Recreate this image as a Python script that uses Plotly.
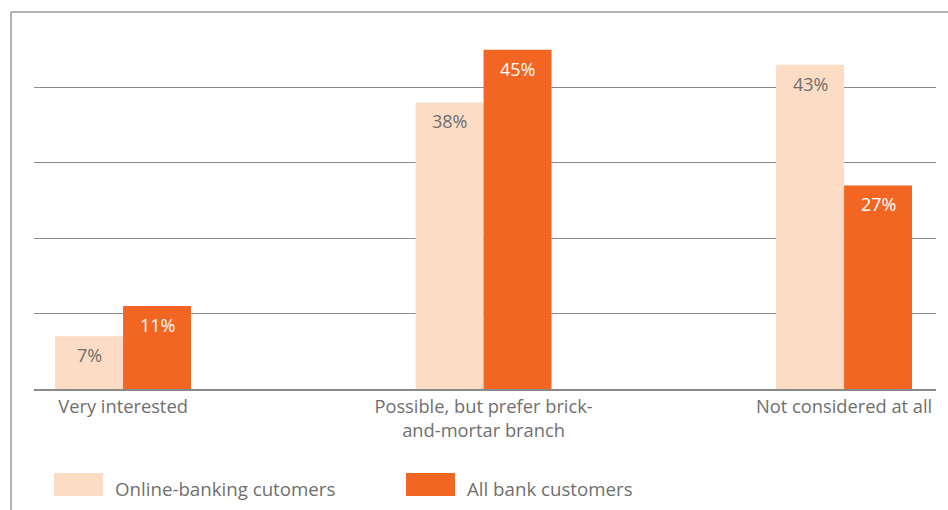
import plotly.graph_objects as go

categories = ["Very interested", "Possible, but prefer brick-<br>and-mortar branch", "Not considered at all"]
series_names = ["Online-banking cutomers", "All bank customers"]
online_values = [7, 38, 43]
all_values = [11, 45, 27]

LIGHT = "#FCDCC5"
DARK = "#F26522"
GRAY_TEXT = "#6f6f6f"
GRID = "#8a8a8a"
FONT = "Open Sans"

fig = go.Figure()
fig.add_trace(go.Bar(x=categories, y=online_values, name=series_names[0],
                     marker=dict(color=LIGHT, line=dict(width=0)), showlegend=False))
fig.add_trace(go.Bar(x=categories, y=all_values, name=series_names[1],
                     marker=dict(color=DARK, line=dict(width=0)), showlegend=False))

annotations = []
for i, c in enumerate(categories):
    annotations.append(dict(x=c, y=online_values[i], xref="x", yref="y", text=f"{online_values[i]}%",
                            showarrow=False, xshift=-34, yshift=-19, yanchor="middle",
                            font=dict(family=FONT, size=18, color=GRAY_TEXT)))
    annotations.append(dict(x=c, y=all_values[i], xref="x", yref="y", text=f"{all_values[i]}%",
                            showarrow=False, xshift=34, yshift=-19, yanchor="middle",
                            font=dict(family=FONT, size=18, color="white")))

# legend drawn as swatches + text below plot
W = 948 - 34 - 12
H = 510 - 12 - 121
def px_x(p):
    return (p - 34) / W
def px_y(p):
    return (389 - p) / H

shapes = [
    # frame (left and top)
    dict(type="line", xref="paper", yref="paper", x0=px_x(11), x1=px_x(11), y0=px_y(12), y1=px_y(512),
         line=dict(color="#9a9a9a", width=1.5)),
    dict(type="line", xref="paper", yref="paper", x0=px_x(11), x1=px_x(950), y0=px_y(12), y1=px_y(12),
         line=dict(color="#9a9a9a", width=1.5)),
    dict(type="rect", xref="paper", yref="paper", x0=px_x(54), x1=px_x(103), y0=px_y(473), y1=px_y(496),
         fillcolor=LIGHT, line=dict(width=0)),
    dict(type="rect", xref="paper", yref="paper", x0=px_x(406), x1=px_x(455), y0=px_y(473), y1=px_y(496),
         fillcolor=DARK, line=dict(width=0)),
]
annotations.append(dict(xref="paper", yref="paper", x=px_x(113), y=px_y(489), text=series_names[0],
                        showarrow=False, xanchor="left", yanchor="middle",
                        font=dict(family=FONT, size=18.7, color=GRAY_TEXT)))
annotations.append(dict(xref="paper", yref="paper", x=px_x(465), y=px_y(489), text=series_names[1],
                        showarrow=False, xanchor="left", yanchor="middle",
                        font=dict(family=FONT, size=18.7, color=GRAY_TEXT)))

fig.update_layout(
    width=948, height=510,
    margin=dict(l=34, r=12, t=12, b=121),
    paper_bgcolor="white", plot_bgcolor="white",
    barmode="group", bargap=0.623, bargroupgap=0,
    showlegend=False,
    font=dict(family=FONT, size=18.3, color=GRAY_TEXT),
    xaxis=dict(range=[-0.247, 2.255], showgrid=False, showline=True, linecolor=GRID, linewidth=1.5,
               ticks="", tickfont=dict(family=FONT, size=18.3, color=GRAY_TEXT), fixedrange=True),
    yaxis=dict(range=[0, 50], dtick=10, showgrid=True, gridcolor=GRID, gridwidth=1.3,
               showticklabels=False, zeroline=False, ticks="", fixedrange=True),
    shapes=shapes,
    annotations=annotations,
)

fig.write_html("out.html")
